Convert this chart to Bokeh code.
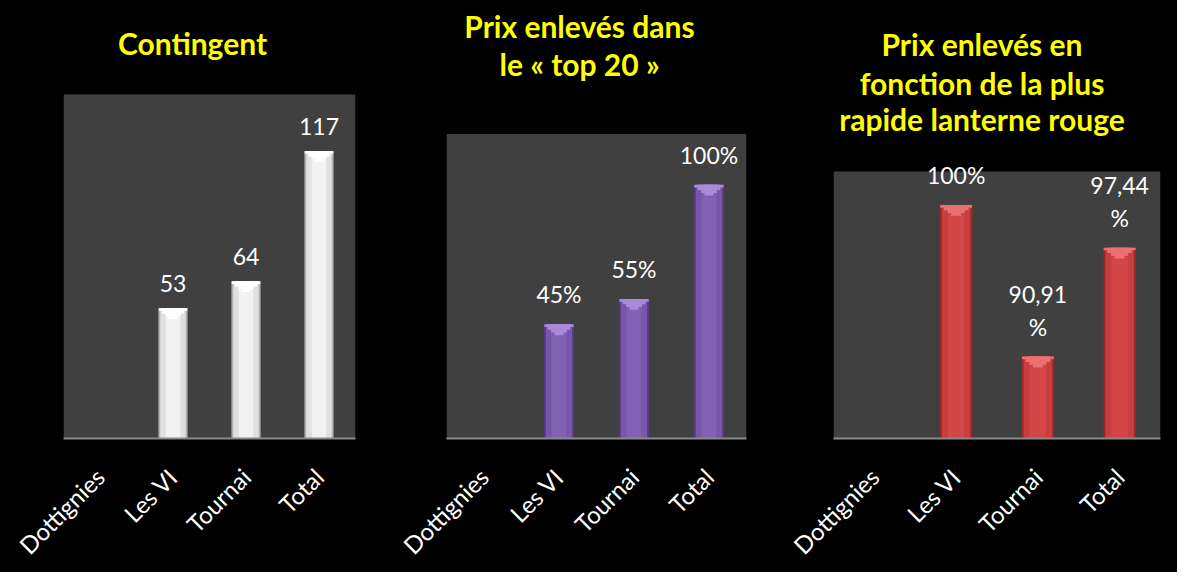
import math
from bokeh.plotting import figure
from bokeh.layouts import row
from bokeh.models import FactorRange, Range1d, BoxAnnotation, Label
from bokeh.core.properties import value
from bokeh.embed import file_html
from bokeh.resources import INLINE

# ---------------- data ----------------
categories = ["Dottignies", "Les VI", "Tournai", "Total"]

contingent = [None, 53, 64, 117]
contingent_labels = ["", "53", "64", "117"]

top20 = [None, 45, 55, 100]
top20_labels = ["", "45%", "55%", "100%"]

lanterne = [None, 100, 90.91, 97.44]
lanterne_labels = ["", "100%", "90,91\n%", "97,44\n%"]

title_contingent = ["Contingent"]
title_top20 = ["Prix enlevés dans", "le « top 20 »"]
title_lanterne = ["Prix enlevés en", "fonction de la plus", "rapide lanterne rouge"]

range_contingent = (0, 140)
range_top20 = (0, 120)
range_lanterne = (86, 102)

# ---------------- styles ----------------
FONT = "Lato"
H = 572
BOTTOM = 129
FRAME_H = H - BOTTOM

white_cols = dict(edge="#b0b0b0", main="#e0e0e0", center="#f2f2f2", bevel="#ffffff")
purple_cols = dict(edge="#563b80", main="#7757ab", center="#8061b4", bevel="#a88bd8")
red_cols = dict(edge="#93292a", main="#c83d3e", center="#d34647", bevel="#ec7071")


def panel(values, labels, title_lines, yr, cols, width, left, right,
          grey_top_px, title_baselines_px, title_dx):
    y0, y1 = yr
    grey_h = FRAME_H - grey_top_px
    y_ext = y0 + (y1 - y0) * FRAME_H / grey_h
    upp = (y_ext - y0) / FRAME_H  # data units per pixel

    p = figure(x_range=FactorRange(*categories), y_range=Range1d(y0, y_ext),
               width=width, height=H, output_backend="svg", toolbar_location=None,
               min_border_left=left, min_border_right=right, min_border_top=0,
               min_border_bottom=BOTTOM, background_fill_color=None,
               border_fill_color="black", outline_line_color=None,
               y_axis_location=None)
    p.grid.visible = False

    p.add_layout(BoxAnnotation(bottom=y0, top=y1, fill_color="#404040", fill_alpha=1.0,
                               line_color=None, level="underlay"))

    xs = [c for c, v in zip(categories, values) if v is not None]
    vs = [v for v in values if v is not None]
    ls = [l for l, v in zip(labels, values) if v is not None]
    bev = upp * 11.0

    p.vbar(x=xs, top=vs, bottom=y0, width=0.40, fill_color=cols["edge"], line_color=None)
    p.vbar(x=xs, top=vs, bottom=y0, width=0.35, fill_color=cols["main"], line_color=None)
    p.vbar(x=xs, top=vs, bottom=y0, width=0.20, fill_color=cols["center"], line_color=None)
    # bevelled top: stepped downward triangle
    for frac, w in ((0.25, 0.39), (0.5, 0.30), (0.75, 0.21), (1.0, 0.12)):
        p.vbar(x=xs, top=vs, bottom=[v - bev * frac for v in vs], width=w,
               fill_color=cols["bevel"], line_color=None)

    p.text(x=xs, y=vs, text=ls, text_align="center", text_baseline="bottom",
           y_offset=-16, text_color="white", text_font=value(FONT),
           text_font_size="23px", text_line_height=1.17)

    ax = p.xaxis[0]
    ax.axis_line_color = "#8a8a8a"
    ax.axis_line_width = 2
    ax.major_tick_line_color = None
    ax.minor_tick_line_color = None
    ax.major_label_orientation = math.pi / 4
    ax.major_label_text_color = "white"
    ax.major_label_text_font = FONT
    ax.major_label_text_font_size = "24px"
    ax.major_label_standoff = 28

    for line, by in zip(title_lines, title_baselines_px):
        p.add_layout(Label(x=len(categories) / 2, y=y_ext - by * upp, text=line,
                           x_offset=title_dx, text_align="center",
                           text_baseline="alphabetic", text_color="#ffff00",
                           text_font=FONT, text_font_size="30px",
                           text_font_style="bold"))
    return p


p1 = panel(contingent, contingent_labels, title_contingent, range_contingent,
           white_cols, 392, 63, 37, 95, [43], -17)
p2 = panel(top20, top20_labels, title_top20, range_top20,
           purple_cols, 385, 54, 31, 135, [26, 64], -17)
p3 = panel(lanterne, lanterne_labels, title_lanterne, range_lanterne,
           red_cols, 400, 56, 17, 173, [44, 83, 120], -15)

p = row(p1, p2, p3, styles={"background-color": "black"})

html = file_html(p, INLINE)
html = html.replace("<body>", '<body style="background-color:#000000;overflow:hidden">', 1)
open("out.html", "w").write(html)
